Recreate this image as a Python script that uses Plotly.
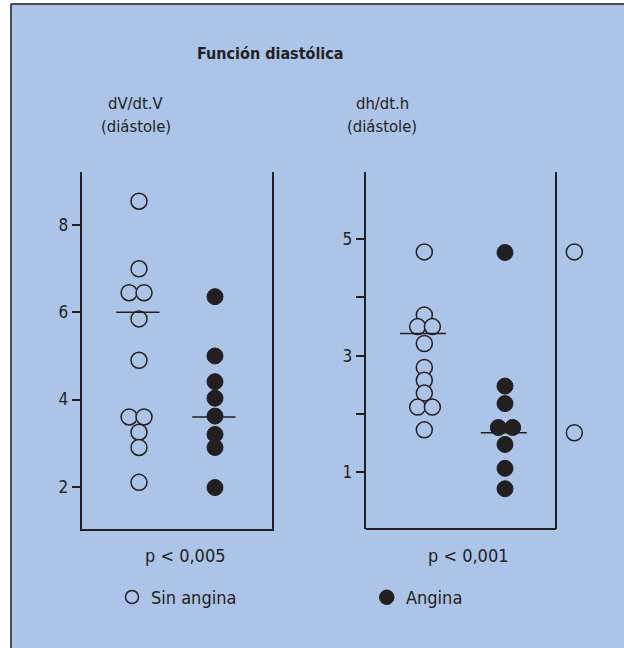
import plotly.graph_objects as go

# ---------------- data ----------------
groups = ["Sin angina", "Angina"]

left_open = [8.55, 7.0, 6.45, 6.45, 5.85, 4.9, 3.6, 3.6, 3.25, 2.9, 2.1]
left_filled = [6.36, 5.0, 4.41, 4.03, 3.62, 3.2, 2.9, 1.98]
left_lines = [6.0, 3.6]

right_open = [4.78, 3.70, 3.50, 3.50, 3.21, 2.80, 2.58, 2.36, 2.12, 2.12, 1.73]
right_filled = [4.77, 2.48, 2.18, 1.77, 1.77, 1.48, 1.07, 0.72]
right_lines = [3.38, 1.68]
right_extra = [4.78, 1.68]

left_ticks = [2, 4, 6, 8]
right_ticks = [1, 2, 3, 4, 5]
right_ticktext = ["1", "", "3", "", "5"]

title = "Función diastólica"
panel_titles = [["dV/dt.V", "(diástole)"], ["dh/dt.h", "(diástole)"]]
pvalues = ["p < 0,005", "p < 0,001"]

# ---------------- layout helpers (positions / styles) ----------------
W, H = 624, 648
BG = "#abc4e8"
INK = "#231f20"
FRAME = "#4a4f57"
FONT = "Liberation Sans Narrow, DejaVu Sans Condensed, Arial Narrow, sans-serif"

left_open_dx = [0, 0, -0.13, 0.066, 0, 0, -0.13, 0.066, 0, 0, 0]
left_filled_dx = [0] * len(left_filled)
right_open_dx = [0, 0, -0.083, 0.1, 0, 0, 0, 0, -0.083, 0.1, 0]
right_filled_dx = [0, 0, 0, -0.083, 0.095, 0, 0, 0]
line_half = (-0.3, 0.27)

def px(x):
    return x / W

def py(y):
    return 1 - y / H

MS = 16
open_marker = dict(symbol="circle", size=MS, color=BG, line=dict(color=INK, width=1.5))
fill_marker = dict(symbol="circle", size=MS, color=INK, line=dict(color=INK, width=1))

fig = go.Figure()

def add_panel(xa, ya, opens, odx, fills, fdx, lines):
    fig.add_trace(go.Scatter(x=[1 + d for d in odx], y=opens, mode="markers",
                             marker=open_marker, xaxis=xa, yaxis=ya,
                             showlegend=False, cliponaxis=False, hoverinfo="y"))
    fig.add_trace(go.Scatter(x=[2 + d for d in fdx], y=fills, mode="markers",
                             marker=fill_marker, xaxis=xa, yaxis=ya,
                             showlegend=False, cliponaxis=False, hoverinfo="y"))
    for gi, v in enumerate(lines):
        c = gi + 1
        fig.add_trace(go.Scatter(x=[c + line_half[0], c + line_half[1]], y=[v, v],
                                 mode="lines", line=dict(color=INK, width=1.5),
                                 xaxis=xa, yaxis=ya, showlegend=False,
                                 hoverinfo="skip"))

add_panel("x", "y", left_open, left_open_dx, left_filled, left_filled_dx, left_lines)
add_panel("x2", "y2", right_open, right_open_dx, right_filled, right_filled_dx, right_lines)
fig.add_trace(go.Scatter(x=[2.859] * len(right_extra), y=right_extra, mode="markers",
                         marker=open_marker, xaxis="x2", yaxis="y2",
                         showlegend=False, cliponaxis=False, hoverinfo="y"))

ydom = [py(529), py(172)]
tickfont = dict(family=FONT, size=17, color=INK)

fig.update_layout(
    width=W, height=H, autosize=False,
    margin=dict(l=0, r=0, t=0, b=0),
    paper_bgcolor=BG, plot_bgcolor="rgba(0,0,0,0)",
    font=dict(family=FONT, color=INK),
    xaxis=dict(domain=[px(81.7), px(271.7)], range=[0.246, 2.746],
               showgrid=False, zeroline=False, showticklabels=False, ticks="",
               showline=True, linecolor=INK, linewidth=2, fixedrange=True),
    yaxis=dict(domain=ydom, range=[1.03, 9.22], tickvals=left_ticks,
               ticks="outside", ticklen=8, tickwidth=1.5, tickcolor=INK,
               showgrid=False, zeroline=False, showline=True, mirror=True,
               linecolor=INK, linewidth=2, tickfont=tickfont, fixedrange=True),
    xaxis2=dict(domain=[px(365.7), px(600)], range=[0.274, 3.177], anchor="y2",
                showgrid=False, zeroline=False, showticklabels=False, ticks="",
                showline=False, fixedrange=True),
    yaxis2=dict(domain=ydom, range=[0.03, 6.15], anchor="x2",
                tickvals=right_ticks, ticktext=right_ticktext,
                ticks="outside", ticklen=8, tickwidth=1.5, tickcolor=INK,
                showgrid=False, zeroline=False, showline=True,
                linecolor=INK, linewidth=2, tickfont=tickfont, fixedrange=True),
    showlegend=False,
)

shapes = [
    # white strips outside the blue panel (left and top)
    dict(type="rect", xref="paper", yref="paper", x0=-0.05, x1=px(10), y0=-0.05, y1=1.05,
         fillcolor="white", line=dict(width=0, color="white"), layer="below"),
    dict(type="rect", xref="paper", yref="paper", x0=-0.05, x1=1.05, y0=py(3), y1=1.05,
         fillcolor="white", line=dict(width=0, color="white"), layer="below"),
    dict(type="line", xref="paper", yref="paper", x0=px(11), x1=px(11), y0=-0.05, y1=py(4),
         line=dict(color=FRAME, width=2), layer="below"),
    dict(type="line", xref="paper", yref="paper", x0=px(11), x1=1.05, y0=py(4), y1=py(4),
         line=dict(color=FRAME, width=2), layer="below"),
    # right panel frame: bottom and right sides
    dict(type="line", xref="x2", yref="y2 domain", x0=0.274, x1=2.632, y0=0, y1=0,
         line=dict(color=INK, width=2)),
    dict(type="line", xref="x2", yref="y2 domain", x0=2.632, x1=2.632, y0=0, y1=1,
         line=dict(color=INK, width=2)),
    # legend markers
    dict(type="circle", xref="paper", yref="paper",
         x0=px(125.5), x1=px(138.5), y0=py(603.5), y1=py(590.5),
         fillcolor=BG, line=dict(color=INK, width=1.5)),
    dict(type="circle", xref="paper", yref="paper",
         x0=px(379.5), x1=px(394), y0=py(604.5), y1=py(590),
         fillcolor=INK, line=dict(color=INK, width=1)),
]
fig.update_layout(shapes=shapes)

ann = [
    dict(text="<b>" + title + "</b>", x=px(270), y=py(53), size=16),
    dict(text=panel_titles[0][0], x=px(136), y=py(103), size=16.5),
    dict(text=panel_titles[0][1], x=px(136), y=py(127), size=16.5),
    dict(text=panel_titles[1][0], x=px(382), y=py(103), size=16.5),
    dict(text=panel_titles[1][1], x=px(382), y=py(127), size=16.5),
    dict(text=pvalues[0], x=px(185), y=py(555), size=18),
    dict(text=pvalues[1], x=px(468), y=py(555), size=18),
]
annotations = [dict(text=a["text"], x=a["x"], y=a["y"], xref="paper", yref="paper",
                    xanchor="center", yanchor="middle", showarrow=False,
                    font=dict(family=FONT, size=a["size"], color=INK))
               for a in ann]
annotations += [
    dict(text=groups[0], x=px(149), y=py(597), xref="paper", yref="paper",
         xanchor="left", yanchor="middle", showarrow=False,
         font=dict(family=FONT, size=18, color=INK)),
    dict(text=groups[1], x=px(404), y=py(597), xref="paper", yref="paper",
         xanchor="left", yanchor="middle", showarrow=False,
         font=dict(family=FONT, size=18, color=INK)),
]
fig.update_layout(annotations=annotations)

fig.write_html("out.html")
